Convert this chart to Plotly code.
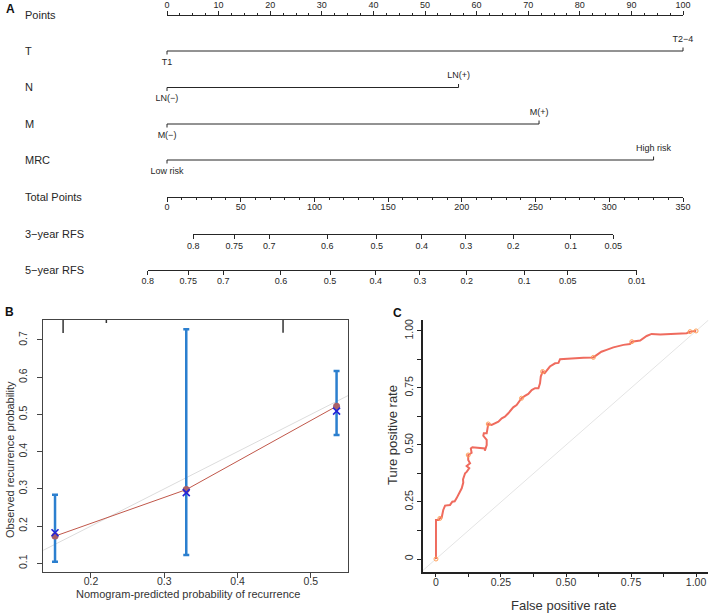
import plotly.graph_objects as go

W, H = 709, 614
FONT = "Liberation Sans, Arial, sans-serif"
INK = "#262626"

# ------------------------------------------------------------------
# Data
# ------------------------------------------------------------------
# Panel A - nomogram
points_ticks = list(range(0, 101, 10))
total_ticks = list(range(0, 351, 50))

cat_rows = ["T", "N", "M", "MRC"]
cat_levels = [["T1", "T2\u22124"], ["LN(\u2212)", "LN(+)"], ["M(\u2212)", "M(+)"], ["Low risk", "High risk"]]
cat_points = [[0, 100], [0, 56.5], [0, 72.1], [0, 94.3]]

rfs3_labels = ["0.8", "0.75", "0.7", "0.6", "0.5", "0.4", "0.3", "0.2", "0.1", "0.05"]
rfs3_total = [17.8, 45.7, 69.4, 108.7, 142.2, 172.8, 202.8, 234.9, 273.8, 302.7]
rfs5_labels = ["0.8", "0.75", "0.7", "0.6", "0.5", "0.4", "0.3", "0.2", "0.1", "0.05", "0.01"]
rfs5_total = [-13.1, 14.4, 38.2, 77.3, 110.6, 141.6, 171.6, 203.3, 242.4, 271.8, 318.6]

# Panel B - calibration
pred = [0.151, 0.330, 0.535]
obs = [0.173, 0.298, 0.522]
obs_corr = [0.182, 0.290, 0.509]
ci_lo = [0.104, 0.122, 0.445]
ci_hi = [0.284, 0.729, 0.617]
rug_x = [0.162, 0.221, 0.462]
rug_len = [0.035, 0.008, 0.034]

# Panel C - ROC
fpr = [0, 0, 0.010, 0.015, 0.022, 0.028, 0.035, 0.054, 0.063, 0.072, 0.079, 0.086,
       0.092, 0.099, 0.105, 0.104, 0.112, 0.118, 0.128, 0.118, 0.131, 0.124, 0.124,
       0.137, 0.134, 0.140, 0.188, 0.188, 0.195, 0.195, 0.182, 0.184, 0.195, 0.201,
       0.214, 0.240, 0.253, 0.265, 0.278, 0.297, 0.310, 0.323, 0.329, 0.342, 0.355,
       0.368, 0.381, 0.394, 0.400, 0.403, 0.410, 0.418, 0.426, 0.438, 0.458, 0.471,
       0.477, 0.496, 0.528, 0.567, 0.605, 0.618, 0.636, 0.656, 0.682, 0.721, 0.746,
       0.753, 0.785, 0.810, 0.829, 0.862, 0.900, 0.932, 0.964, 0.977, 1.000]
tpr = [0, 0.171, 0.171, 0.178, 0.182, 0.215, 0.234, 0.237, 0.251, 0.253, 0.266, 0.281,
       0.295, 0.310, 0.335, 0.349, 0.376, 0.382, 0.398, 0.408, 0.420, 0.434, 0.456,
       0.466, 0.485, 0.490, 0.485, 0.475, 0.500, 0.522, 0.540, 0.551, 0.551, 0.592,
       0.588, 0.602, 0.617, 0.624, 0.639, 0.665, 0.675, 0.697, 0.705, 0.715, 0.724,
       0.741, 0.749, 0.749, 0.770, 0.800, 0.822, 0.815, 0.826, 0.844, 0.858, 0.860,
       0.876, 0.878, 0.880, 0.883, 0.884, 0.895, 0.909, 0.917, 0.928, 0.939, 0.943,
       0.953, 0.958, 0.978, 0.987, 0.984, 0.987, 0.990, 0.990, 0.997, 1.000]
roc_mark_x = [0, 0.015, 0.124, 0.201, 0.329, 0.410, 0.605, 0.753, 0.977, 1.0]
roc_mark_y = [0, 0.178, 0.456, 0.592, 0.705, 0.822, 0.884, 0.953, 0.997, 1.0]

# ------------------------------------------------------------------
# Layout geometry (pixels)
# ------------------------------------------------------------------
PX0, PX100 = 167, 683          # points 0 and 100 on the nomogram
K = (PX100 - PX0) / 350        # px per total point
row_y = {"Points": 15, "T": 51, "N": 87.5, "M": 124, "MRC": 160,
         "Total Points": 197, "3\u2212year RFS": 233.5, "5\u2212year RFS": 270}


def py(v):
    return 1 - v / H


fig = go.Figure()

# --- panel A: categorical rows on the base axes (x in points, y in px)
line_x, line_y, tick_x, tick_y = [], [], [], []
lab_x, lab_y, lab_t = [], [], []
for name, levels, pts in zip(cat_rows, cat_levels, cat_points):
    ry = row_y[name]
    line_x += [pts[0], pts[-1], None]
    line_y += [ry, ry, None]
    for i, (lv, p) in enumerate(zip(levels, pts)):
        d = 1 if i % 2 == 0 else -1
        tick_x += [p, p, None]
        tick_y += [ry, ry + 3.5 * d, None]
        lab_x.append(p)
        lab_y.append(ry + 11.5 * d)
        lab_t.append(lv)

fig.add_trace(go.Scatter(x=line_x + tick_x, y=line_y + tick_y, mode="lines",
                         line=dict(color=INK, width=1), hoverinfo="skip",
                         xaxis="x", yaxis="y"))
fig.add_trace(go.Scatter(x=lab_x, y=lab_y, text=lab_t, mode="text",
                         textfont=dict(size=9, color=INK, family=FONT),
                         textposition="middle center", hoverinfo="skip",
                         xaxis="x", yaxis="y"))

# dummy traces so the free nomogram axes get drawn
for ax in ["x2", "x3", "x4", "x5"]:
    fig.add_trace(go.Scatter(x=[None], y=[None], xaxis=ax, yaxis="y",
                             hoverinfo="skip"))

# --- panel B: calibration
fig.add_trace(go.Scatter(x=[0.0, 0.7], y=[0.0, 0.7], mode="lines",
                         line=dict(color="#dcdcdc", width=1),
                         xaxis="x6", yaxis="y6", hoverinfo="skip"))
rx, ry_ = [], []
for x0, ln in zip(rug_x, rug_len):
    rx += [x0, x0, None]
    ry_ += [0.7537, 0.7537 - ln, None]
fig.add_trace(go.Scatter(x=rx, y=ry_, mode="lines", line=dict(color="#333333", width=1.5),
                         xaxis="x6", yaxis="y6", hoverinfo="skip"))
fig.add_trace(go.Scatter(x=pred, y=obs, mode="lines",
                         line=dict(color="#c0574a", width=1),
                         xaxis="x6", yaxis="y6"))
fig.add_trace(go.Scatter(
    x=pred, y=obs, mode="markers", marker=dict(size=1, color="rgba(0,0,0,0)"),
    error_y=dict(type="data", symmetric=False,
                 array=[h - o for h, o in zip(ci_hi, obs)],
                 arrayminus=[o - l for o, l in zip(obs, ci_lo)],
                 color="#2b7fcf", thickness=2.5, width=3),
    xaxis="x6", yaxis="y6"))
fig.add_trace(go.Scatter(x=pred, y=obs, mode="markers",
                         marker=dict(size=7, color="#a8606a"),
                         xaxis="x6", yaxis="y6"))
fig.add_trace(go.Scatter(x=pred, y=obs_corr, mode="markers",
                         marker=dict(size=7, symbol="x-thin",
                                     line=dict(color="#2424d8", width=1.6)),
                         xaxis="x6", yaxis="y6"))

# --- panel C: ROC
fig.add_trace(go.Scatter(x=[-0.1, 1.1], y=[-0.1, 1.1], mode="lines",
                         line=dict(color="#e4e4e4", width=1),
                         xaxis="x7", yaxis="y7", hoverinfo="skip"))
fig.add_trace(go.Scatter(x=fpr, y=tpr, mode="lines",
                         line=dict(color="#ef6b5e", width=2),
                         xaxis="x7", yaxis="y7"))
fig.add_trace(go.Scatter(x=roc_mark_x, y=roc_mark_y, mode="markers",
                         marker=dict(size=4, symbol="circle-open",
                                     line=dict(color="#ef6b5e", width=1)),
                         xaxis="x7", yaxis="y7", cliponaxis=False))

hidden = dict(visible=False, showgrid=False, zeroline=False)
nomo_axis = dict(anchor="free", showline=True, linecolor=INK, linewidth=1,
                 ticks="outside", tickcolor=INK, tickwidth=1,
                 tickfont=dict(size=9, color=INK, family=FONT),
                 showgrid=False, zeroline=False, tickangle=0, automargin=False)

dom_pts = [PX0 / W, PX100 / W]
dom3 = [(PX0 + rfs3_total[0] * K) / W, (PX0 + rfs3_total[-1] * K) / W]
dom5 = [(PX0 + rfs5_total[0] * K) / W, (PX0 + rfs5_total[-1] * K) / W]

B_dom_x = [43.3 / W, 348.3 / W]
C_dom_x = [422.7 / W, 708.3 / W]
BC_dom_y = [py(571.7), py(320)]

frame = dict(showline=True, linecolor="#444444", linewidth=1, mirror=True,
             ticks="outside", ticklen=5, tickcolor="#444444",
             tickfont=dict(size=10.5, color="#333333", family=FONT),
             showgrid=False, zeroline=False, automargin=False)
roc_ax = dict(showline=True, linecolor="#222222", linewidth=1.5,
              ticks="outside", ticklen=4, tickcolor="#222222", tickwidth=1.2,
              tickvals=[0, 0.25, 0.5, 0.75, 1.0],
              ticktext=["0", "0.25", "0.50", "0.75", "1.00"],
              minor=dict(tickvals=[0.125, 0.375, 0.625, 0.875], ticks="outside",
                         ticklen=4, tickcolor="#222222", tickwidth=1.2),
              tickfont=dict(size=10.5, color="#333333", family=FONT),
              showgrid=False, zeroline=False, automargin=False)

fig.update_layout(
    width=W, height=H, autosize=False,
    margin=dict(l=0, r=0, t=0, b=0),
    paper_bgcolor="white", plot_bgcolor="rgba(0,0,0,0)",
    showlegend=False,
    font=dict(family=FONT, color=INK),
    xaxis=dict(domain=[0, 1], range=[-PX0 / K / 3.5, (W - PX0) / K / 3.5], **hidden),
    yaxis=dict(domain=[py(295), 1], range=[295, 0], **hidden),
    xaxis2=dict(domain=dom_pts, range=[0, 100], position=py(row_y["Points"]), side="top",
                tickvals=points_ticks, ticklen=4, ticklabelstandoff=-1,
                minor=dict(dtick=2.5, ticks="outside", ticklen=2, tickcolor=INK),
                **nomo_axis),
    xaxis3=dict(domain=dom_pts, range=[0, 350], position=py(row_y["Total Points"]),
                side="bottom", tickvals=total_ticks, ticklen=4, ticklabelstandoff=-3,
                minor=dict(dtick=10, ticks="outside", ticklen=2, tickcolor=INK),
                **nomo_axis),
    xaxis4=dict(domain=dom3, range=[rfs3_total[0], rfs3_total[-1]],
                position=py(row_y["3\u2212year RFS"]), side="bottom",
                tickvals=rfs3_total, ticktext=rfs3_labels, ticklen=4, **nomo_axis),
    xaxis5=dict(domain=dom5, range=[rfs5_total[0], rfs5_total[-1]],
                position=py(row_y["5\u2212year RFS"]), side="bottom", ticklabelstandoff=-2,
                tickvals=rfs5_total, ticktext=rfs5_labels, ticklen=4, **nomo_axis),
    xaxis6=dict(domain=B_dom_x, range=[0.135, 0.551], anchor="y6",
                tickvals=[0.2, 0.3, 0.4, 0.5], ticklabelstandoff=-5, **frame),
    yaxis6=dict(domain=BC_dom_y, range=[0.0774, 0.7537], anchor="x6",
                tickvals=[0.1, 0.2, 0.3, 0.4, 0.5, 0.6, 0.7], tickangle=-90,
                ticklabelstandoff=6, **frame),
    xaxis7=dict(domain=C_dom_x, range=[-0.051, 1.047], anchor="y7",
                ticklabelstandoff=-4, **roc_ax),
    yaxis7=dict(domain=BC_dom_y, range=[-0.0557, 1.048], anchor="x7", tickangle=-90,
                **roc_ax),
)

# row names of the nomogram
for name, yv in row_y.items():
    fig.add_annotation(x=23 / W, y=py(yv), xref="paper", yref="paper", text=name,
                       showarrow=False, xanchor="left", yanchor="middle",
                       font=dict(size=11, color=INK, family=FONT))

# axis titles of panels B and C
titles = [
    ("Nomogram-predicted probability of recurrence", 188.5, 594, 0, 11),
    ("Observed recurrence probability", 10, 460, -90, 11),
    ("False positive rate", 564, 605, 0, 13),
    ("Ture positive rate", 392, 435, -90, 13),
]
for text, tx, ty, ang, size in titles:
    fig.add_annotation(x=tx / W, y=py(ty), xref="paper", yref="paper", text=text,
                       showarrow=False, textangle=ang, xanchor="center", yanchor="middle",
                       font=dict(size=size, color="#333333", family=FONT))

# panel letters
for letter, lx, ly in [("A", 4, 9), ("B", 3, 312), ("C", 391, 313)]:
    fig.add_annotation(x=lx / W, y=py(ly), xref="paper", yref="paper", text=f"<b>{letter}</b>",
                       showarrow=False, xanchor="left", yanchor="middle",
                       font=dict(size=12, color="#111111", family=FONT))

# the page body has a default 8px margin; drop it so the figure fills the window
fig.write_html("out.html", config={"displayModeBar": False},
               post_script="document.body.style.margin='0';")
